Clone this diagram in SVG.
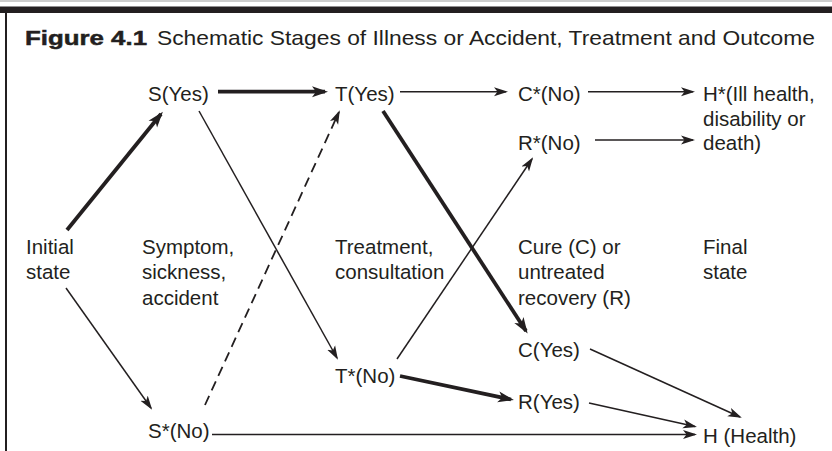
<svg xmlns="http://www.w3.org/2000/svg" width="832" height="451" viewBox="0 0 832 451">
<style>
  .t { font-family: "Liberation Sans", Arial, sans-serif; font-size: 20.5px; fill: #231f20; }
  .thin { stroke: #231f20; stroke-width: 1.5; fill: none; marker-end: url(#ah); }
  .thick { stroke: #231f20; stroke-width: 3.8; fill: none; marker-end: url(#ahb); }
  .dash { stroke: #231f20; stroke-width: 1.8; fill: none; stroke-dasharray: 10 6; marker-end: url(#ah); }
</style>
<defs>
  <marker id="ah" markerUnits="userSpaceOnUse" markerWidth="14" markerHeight="10" viewBox="0 0 14 10" refX="12" refY="5" orient="auto">
    <path d="M0,0.5 L14,5 L0,9.5 L3.5,5 z" fill="#231f20"/>
  </marker>
  <marker id="ahb" markerUnits="userSpaceOnUse" markerWidth="16" markerHeight="12" viewBox="0 0 16 12" refX="13" refY="6" orient="auto">
    <path d="M0,0.5 L16,6 L0,11.5 L4,6 z" fill="#231f20"/>
  </marker>
</defs>
<rect width="832" height="451" fill="#ffffff"/>
<line x1="0" y1="1" x2="832" y2="1" stroke="#bbbbbb" stroke-width="1.5"/>
<rect x="0" y="6.5" width="832" height="6.5" fill="#231f20"/>
<line x1="6" y1="12" x2="6" y2="451" stroke="#231f20" stroke-width="2"/>
<g id="title">
  <text x="25" y="45" font-family="'Liberation Sans', Arial, sans-serif" font-size="21" font-weight="bold" fill="#231f20" stroke="#231f20" stroke-width="0.5" textLength="122" lengthAdjust="spacingAndGlyphs">Figure 4.1</text>
  <text x="157" y="45" font-family="'Liberation Sans', Arial, sans-serif" font-size="21" fill="#231f20" textLength="658" lengthAdjust="spacingAndGlyphs">Schematic Stages of Illness or Accident, Treatment and Outcome</text>
</g>
<g id="connectors">
  <line class="thick" x1="67" y1="230" x2="161" y2="114"/>
  <line class="thin" x1="66" y1="288" x2="151" y2="408"/>
  <line class="thick" x1="218" y1="91.7" x2="325" y2="91.7"/>
  <line class="thin" x1="199" y1="111" x2="337" y2="358"/>
  <line class="dash" x1="205" y1="405" x2="339" y2="112"/>
  <line class="thin" x1="212" y1="434.5" x2="695" y2="434.5"/>
  <line class="thin" x1="400" y1="91.7" x2="506" y2="91.7"/>
  <line class="thick" x1="383" y1="111" x2="526" y2="331"/>
  <line class="thin" x1="397" y1="359" x2="532" y2="159"/>
  <line class="thick" x1="400" y1="376" x2="511" y2="399.5"/>
  <line class="thin" x1="588" y1="91.7" x2="693" y2="91.7"/>
  <line class="thin" x1="595" y1="140" x2="693" y2="140"/>
  <line class="thin" x1="590" y1="349" x2="740" y2="417"/>
  <line class="thin" x1="589" y1="403" x2="695" y2="426.5"/>
</g>
<g id="col-initial"><text class="t" x="26" y="254">Initial</text><text class="t" x="26" y="279">state</text></g>
<g id="col-symptom"><text class="t" x="142" y="254">Symptom,</text><text class="t" x="142" y="279">sickness,</text><text class="t" x="142" y="305">accident</text></g>
<g id="col-treatment"><text class="t" x="335" y="254">Treatment,</text><text class="t" x="335" y="279">consultation</text></g>
<g id="col-cure"><text class="t" x="518" y="254">Cure (C) or</text><text class="t" x="518" y="279">untreated</text><text class="t" x="518" y="305">recovery (R)</text></g>
<g id="col-final"><text class="t" x="703" y="254">Final</text><text class="t" x="703" y="279">state</text></g>
<g id="node-S-yes"><text class="t" x="148" y="100.7">S(Yes)</text></g>
<g id="node-S-no"><text class="t" x="148" y="438">S*(No)</text></g>
<g id="node-T-yes"><text class="t" x="335" y="100.7">T(Yes)</text></g>
<g id="node-T-no"><text class="t" x="335" y="383">T*(No)</text></g>
<g id="node-C-no"><text class="t" x="518" y="100.7">C*(No)</text></g>
<g id="node-R-no"><text class="t" x="518" y="150">R*(No)</text></g>
<g id="node-C-yes"><text class="t" x="518" y="357">C(Yes)</text></g>
<g id="node-R-yes"><text class="t" x="518" y="409">R(Yes)</text></g>
<g id="node-H-ill"><text class="t" x="703" y="100.7">H*(Ill health,</text><text class="t" x="703" y="125.5">disability or</text><text class="t" x="703" y="150">death)</text></g>
<g id="node-H"><text class="t" x="703" y="443">H (Health)</text></g>
</svg>
